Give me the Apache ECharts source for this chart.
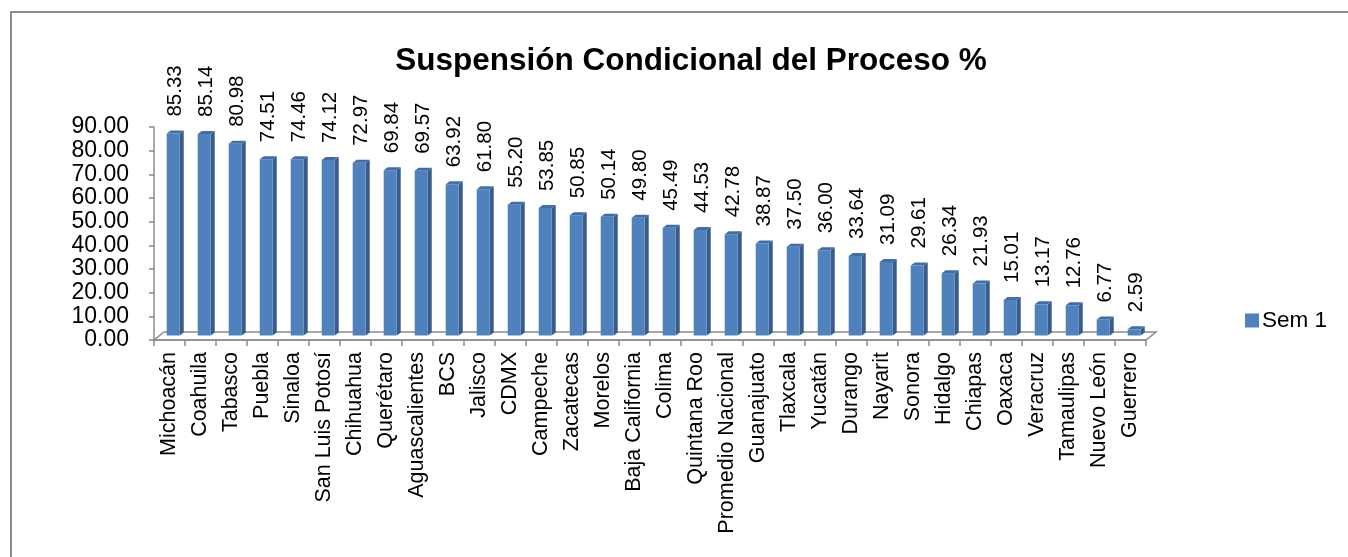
<!DOCTYPE html>
<html>
<head>
<meta charset="utf-8">
<script src="https://cdn.jsdelivr.net/npm/echarts@6/dist/echarts.min.js"></script>
<style>
html,body{margin:0;padding:0;background:#fff;}
#chart{width:1348px;height:557px;}
</style>
</head>
<body>
<div id="chart"></div>
<script>
const categories = ["Michoacán","Coahuila","Tabasco","Puebla","Sinaloa","San Luis Potosí","Chihuahua","Querétaro","Aguascalientes","BCS","Jalisco","CDMX","Campeche","Zacatecas","Morelos","Baja California","Colima","Quintana Roo","Promedio Nacional","Guanajuato","Tlaxcala","Yucatán","Durango","Nayarit","Sonora","Hidalgo","Chiapas","Oaxaca","Veracruz","Tamaulipas","Nuevo León","Guerrero"];
const sem1 = [85.33,85.14,80.98,74.51,74.46,74.12,72.97,69.84,69.57,63.92,61.80,55.20,53.85,50.85,50.14,49.80,45.49,44.53,42.78,38.87,37.50,36.00,33.64,31.09,29.61,26.34,21.93,15.01,13.17,12.76,6.77,2.59];
const seriesName = "Sem 1";
const titleText = "Suspensión Condicional del Proceso %";

const FONT = "'Liberation Sans', Arial, sans-serif";
const chart = echarts.init(document.getElementById('chart'), null, {renderer:'canvas'});

function renderBar(params, api){
  const i = api.value(0), v = api.value(1);
  const base = api.coord([i, 0]);
  const top = api.coord([i, v]);
  const bw = api.size([1, 0])[0];
  const fw = bw * 0.42;
  const fl = base[0] - bw * 0.09;
  const fr = fl + fw;
  const oy = -4.5, dx = 4, dy = -3;
  const yt = top[1] + oy, yb = base[1] + oy;
  return {
    type: 'group',
    children: [
      {type:'polygon', shape:{points:[[fr,yt],[fr+dx,yt+dy],[fr+dx,yb+dy],[fr,yb]]}, style:{fill:'#385D8A'}},
      {type:'rect', shape:{x:fl, y:yt, width:fw, height:yb-yt}, style:{fill:'#4F81BD'}},
      {type:'polygon', shape:{points:[[fl,yt],[fl+dx,yt+dy],[fr+dx,yt+dy],[fr,yt]]}, style:{fill:'#3F6EA8'}},
      {type:'text', x: fl + (fw+dx)/2, y: yt - 17, rotation: Math.PI/2,
        style:{text: v.toFixed(2), x:0, y:0, align:'left', verticalAlign:'middle', fill:'#000', font: '20.5px ' + FONT}}
    ]
  };
}

function renderFloor(params, api){
  const cs = params.coordSys;
  const yb = cs.y + cs.height, x0 = cs.x, x1 = cs.x + cs.width;
  return {
    type:'polygon',
    shape:{points:[[x0,yb],[x1,yb],[x1+10,yb-8],[x0+10,yb-8]]},
    style:{fill:'none', stroke:'#8c8c8c', lineWidth:1.5}
  };
}

chart.setOption({
  animation:false,
  backgroundColor:'#fff',
  title:{text:titleText, left:686, top:40, textAlign:'center',
    textStyle:{fontFamily:FONT, fontWeight:'bold', fontSize:31.5, color:'#000'}},
  graphic:[{type:'rect', shape:{x:11, y:12, width:1400, height:600}, style:{fill:'none', stroke:'#8c8c8c', lineWidth:2}, silent:true, z:-1}],
  legend:{data:[seriesName], left:1245, top:309, padding:0, icon:'rect', itemWidth:14, itemHeight:14, itemGap:10,
    textStyle:{fontFamily:FONT, fontSize:22.5, color:'#000', padding:[0,0,0,-2]}},
  grid:{left:154, right:202, top:127, bottom:217, containLabel:false},
  xAxis:{type:'category', data:categories, boundaryGap:true,
    axisLine:{lineStyle:{color:'#8c8c8c', width:1.5}},
    axisTick:{show:true, length:6, lineStyle:{color:'#8c8c8c', width:1.5}},
    axisLabel:{rotate:90, interval:0, margin:12, fontSize:21.5, fontFamily:FONT, color:'#000'},
    splitLine:{show:false}},
  yAxis:{type:'value', min:0, max:90, interval:10,
    axisLine:{show:true, lineStyle:{color:'#8c8c8c', width:1.5}},
    axisTick:{show:true, length:5, lineStyle:{color:'#8c8c8c', width:1.5}},
    axisLabel:{formatter:v=>v.toFixed(2), margin:25, fontSize:23, fontFamily:FONT, color:'#000'},
    splitLine:{show:false}},
  series:[
    {type:'custom', name:'floor', renderItem:renderFloor, data:[[0]], z:1, silent:true, encode:{x:0}},
    {type:'custom', name:seriesName, renderItem:renderBar, itemStyle:{color:'#4F81BD'},
      data: sem1.map((v,i)=>[i,v]), encode:{x:0, y:1}, z:2}
  ]
});
</script>
</body>
</html>
